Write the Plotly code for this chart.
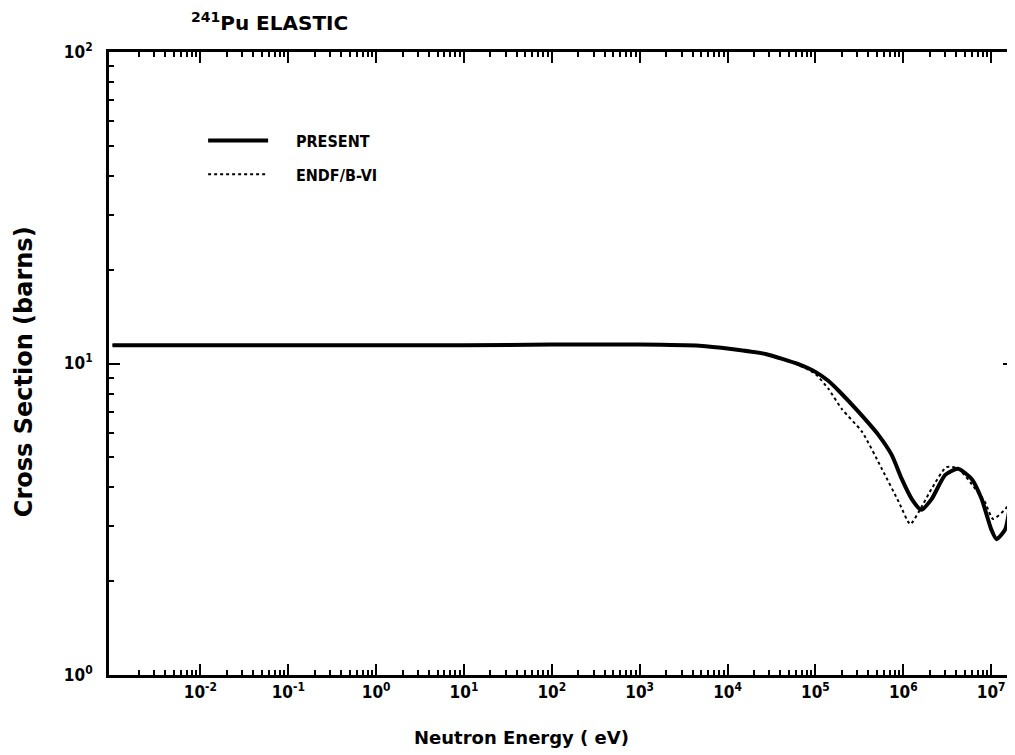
import plotly.graph_objects as go

# Present evaluation (energy in eV, cross section in barns)
present_E = [1e-3, 1e-2, 1e-1, 1, 10, 100, 1e3, 4.8e3, 1.1e4, 2.7e4, 6.4e4, 1.0e5, 1.4e5, 1.9e5,
             3.1e5, 5.2e5, 7.4e5, 9.6e5, 1.25e6, 1.6e6, 2.1e6, 3.0e6, 4.2e6, 6.0e6, 7.8e6,
             1.0e7, 1.15e7, 1.45e7, 1.7e7, 2.0e7]
present_xs = [11.45, 11.45, 11.45, 11.45, 11.45, 11.5, 11.5, 11.4, 11.13, 10.73, 9.95, 9.4, 8.8, 8.1,
              6.99, 5.90, 5.08, 4.26, 3.67, 3.39, 3.67, 4.39, 4.59, 4.26, 3.67,
              2.94, 2.73, 2.94, 3.67, 4.1]

# ENDF/B-VI
endf_E = [1e-3, 1e-2, 1e-1, 1, 10, 100, 1e3, 4.8e3, 1.1e4, 2.7e4, 6.4e4, 1.0e5, 1.4e5, 2.0e5,
          3.4e5, 5.7e5, 8.9e5, 1.2e6, 1.5e6, 2.1e6, 3.1e6, 4.2e6, 6.6e6, 8.5e6,
          1.05e7, 1.45e7, 1.7e7, 2.0e7]
endf_xs = [11.45, 11.45, 11.45, 11.45, 11.45, 11.5, 11.5, 11.4, 11.1, 10.7, 9.9, 9.25, 8.3, 7.14,
           6.03, 4.59, 3.59, 3.05, 3.34, 3.96, 4.65, 4.6, 3.96, 3.59,
           3.17, 3.41, 3.67, 3.9]

x_ticks = [1e-2, 1e-1, 1, 10, 100, 1e3, 1e4, 1e5, 1e6, 1e7]
x_ticklabels = ["10<sup>-2</sup>", "10<sup>-1</sup>", "10<sup>0</sup>", "10<sup>1</sup>",
                "10<sup>2</sup>", "10<sup>3</sup>", "10<sup>4</sup>", "10<sup>5</sup>",
                "10<sup>6</sup>", "10<sup>7</sup>"]
y_ticks = [1, 10, 100]
y_ticklabels = ["10<sup>0</sup>", "10<sup>1</sup>", "10<sup>2</sup>"]

FONT = "DejaVu Sans"
FONT_C = "DejaVu Sans Condensed, DejaVu Sans"

x_minor = [k * 10.0 ** n for n in range(-3, 8) for k in range(2, 10)]
y_minor = [k * 10.0 ** n for n in range(0, 2) for k in range(2, 10)]

NB = "\u00a0" * 5

fig = go.Figure()
fig.add_trace(go.Scatter(x=present_E, y=present_xs, mode="lines", name=NB + "<b>PRESENT</b>",
                         legendgroup="a",
                         line=dict(color="black", width=4, shape="spline", smoothing=0.6)))
fig.add_trace(go.Scatter(x=endf_E, y=endf_xs, mode="lines", name=NB + "<b>ENDF/B-VI</b>",
                         legendgroup="b",
                         line=dict(color="black", width=2, dash="dot", shape="spline", smoothing=0.6)))

axis_common = dict(showgrid=False, zeroline=False, showline=True, linecolor="black", linewidth=3,
                   mirror="ticks", ticks="inside", ticklen=11, tickwidth=2, tickcolor="black",
                   automargin=False,
                   tickfont=dict(family=FONT_C, size=17, color="black"))

fig.update_xaxes(type="log", range=[-3.04, 7.26], tickmode="array", tickvals=x_ticks,
                 ticktext=["<b>" + t + "</b>" for t in x_ticklabels],
                 minor=dict(tickmode="array", tickvals=x_minor, ticks="inside", ticklen=5,
                            tickwidth=2, tickcolor="black", showgrid=False),
                 **axis_common)
fig.update_yaxes(type="log", range=[0, 2], tickmode="array", tickvals=y_ticks,
                 ticktext=["<b>" + t + "</b>" for t in y_ticklabels],
                 ticklabelstandoff=10,
                 minor=dict(tickmode="array", tickvals=y_minor, ticks="inside", ticklen=5,
                            tickwidth=2, tickcolor="black", showgrid=False),
                 **axis_common)

# plot area in screen pixels: x 107..1014, y 50..673 (page has a small body margin)
PW, PH = 907.0, 623.0

fig.update_layout(
    width=1007, height=747,
    margin=dict(l=101, r=1, t=44, b=80),
    paper_bgcolor="white", plot_bgcolor="white",
    font=dict(family=FONT, color="black"),
    showlegend=True,
    legend=dict(x=0.104, y=0.885, xanchor="left", yanchor="top", bgcolor="rgba(0,0,0,0)",
                font=dict(family=FONT_C, size=16, color="black"), tracegroupgap=10,
                itemwidth=60),
    annotations=[
        dict(text="<b><sup>241</sup>Pu ELASTIC</b>", x=(268 - 107) / PW, y=(673 - 20) / PH,
             xref="paper", yref="paper", xanchor="center", yanchor="middle",
             showarrow=False, font=dict(family=FONT, size=20)),
        dict(text="<b>Neutron Energy ( eV)</b>", x=(520 - 107) / PW, y=(673 - 735) / PH,
             xref="paper", yref="paper", xanchor="center", yanchor="middle",
             showarrow=False, font=dict(family=FONT, size=18)),
        dict(text="<b>Cross Section (barns)</b>", x=(22 - 107) / PW, y=(673 - 370) / PH,
             xref="paper", yref="paper", xanchor="center", yanchor="middle",
             textangle=-90, showarrow=False, font=dict(family=FONT, size=24)),
    ],
)

fig.write_html("out.html")
